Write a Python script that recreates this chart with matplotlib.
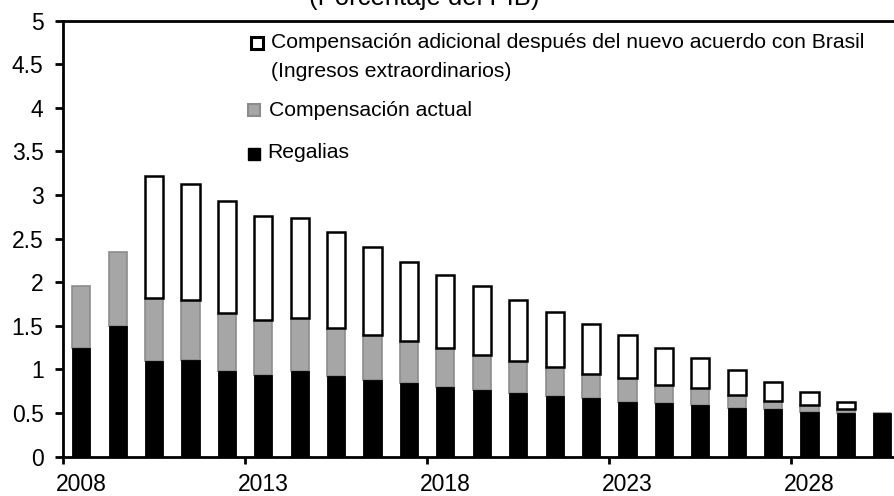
import matplotlib
matplotlib.use("Agg")
import matplotlib.pyplot as plt
from matplotlib.patches import Rectangle
import numpy as np

plt.rcParams['font.family'] = ['Liberation Sans', 'DejaVu Sans']

years = list(range(2008, 2031))
# Top of each stacked segment (cumulative)
regalias = [1.25, 1.50, 1.09, 1.11, 0.98, 0.93, 0.98, 0.92, 0.88, 0.84, 0.80,
            0.76, 0.73, 0.69, 0.67, 0.63, 0.61, 0.59, 0.56, 0.54, 0.51, 0.50, 0.50]
comp_actual_top = [1.95, 2.35, 1.82, 1.80, 1.65, 1.56, 1.59, 1.47, 1.39, 1.33, 1.25,
                   1.16, 1.10, 1.03, 0.95, 0.90, 0.82, 0.79, 0.71, 0.64, 0.59, 0.55, 0.50]
total_top = [1.95, 2.35, 3.22, 3.13, 2.93, 2.76, 2.73, 2.57, 2.40, 2.23, 2.08,
             1.95, 1.80, 1.66, 1.52, 1.39, 1.25, 1.13, 0.99, 0.86, 0.74, 0.62, 0.50]

reg = np.array(regalias)
comp = np.array(comp_actual_top) - reg
adic = np.array(total_top) - np.array(comp_actual_top)

xtick_labels = ['2008', '2013', '2018', '2023', '2028']
yticks = np.arange(0, 5.01, 0.5)
ytick_labels = ['0', '0.5', '1', '1.5', '2', '2.5', '3', '3.5', '4', '4.5', '5']

legend_labels = ['Compensación adicional después del nuevo acuerdo con Brasil',
                 '(Ingresos extraordinarios)',
                 'Compensación actual',
                 'Regalias']
title = '(Porcentaje del PIB)'

W, H = 894, 496
fig = plt.figure(figsize=(W / 100, H / 100), dpi=100)
left_px, right_px, top_px, bot_px = 63, 900.6, 20.5, 456.5
ax = fig.add_axes([left_px / W, 1 - bot_px / H, (right_px - left_px) / W, (bot_px - top_px) / H])

x = np.arange(len(years))
bw = 0.5
ax.bar(x, reg, bw, color='black', edgecolor='black', linewidth=0.6, zorder=3)
ax.bar(x, comp, bw, bottom=reg, color='#a6a6a6', edgecolor='#8c8c8c', linewidth=1.2, zorder=2)
mask = adic > 0.005
ax.bar(x[mask], adic[mask], bw, bottom=np.array(comp_actual_top)[mask], color='white',
       edgecolor='black', linewidth=1.8, zorder=3)

ax.set_xlim(-0.5, len(years) - 0.5)
ax.set_ylim(0, 5)
ax.set_yticks(yticks)
ax.set_yticklabels(ytick_labels)
ax.set_xticks([0, 5, 10, 15, 20])
ax.set_xticklabels(xtick_labels)
ax.set_xticks([-0.5, 4.5, 9.5, 14.5, 19.5], minor=True)
ax.tick_params(axis='x', which='major', length=0, pad=12, labelsize=16.5)
ax.tick_params(axis='x', which='minor', length=5, width=2, direction='out')
ax.tick_params(axis='y', length=6, width=2, direction='out', pad=8, labelsize=16.5)
for s in ['left', 'bottom', 'top', 'right']:
    ax.spines[s].set_linewidth(2)
    ax.spines[s].set_color('black')

fig.text(424 / W, 1 - 10.5 / H, title, ha='center', va='bottom', fontsize=18.5)

# Legend drawn manually
def px(xp, yp):
    return xp / W, 1 - yp / H

fs = 15.2
sq = 12
fig.patches.append(Rectangle((250.5 / W, 1 - 49 / H), sq / W, sq / H, transform=fig.transFigure,
                             facecolor='white', edgecolor='black', linewidth=2.2))
fig.patches.append(Rectangle((247.5 / W, 1 - 115.5 / H), sq / W, sq / H, transform=fig.transFigure,
                             facecolor='#a6a6a6', edgecolor='#8c8c8c', linewidth=1.5))
fig.patches.append(Rectangle((248.5 / W, 1 - 159.5 / H), sq / W, sq / H, transform=fig.transFigure,
                             facecolor='black', edgecolor='black', linewidth=1))
fig.text(*px(271, 48.5), legend_labels[0], ha='left', va='baseline', fontsize=fs)
fig.text(*px(271, 77), legend_labels[1], ha='left', va='baseline', fontsize=fs)
fig.text(*px(269, 115.7), legend_labels[2], ha='left', va='baseline', fontsize=fs)
fig.text(*px(267, 158.3), legend_labels[3], ha='left', va='baseline', fontsize=fs)

fig.savefig('out.png', dpi=100)
